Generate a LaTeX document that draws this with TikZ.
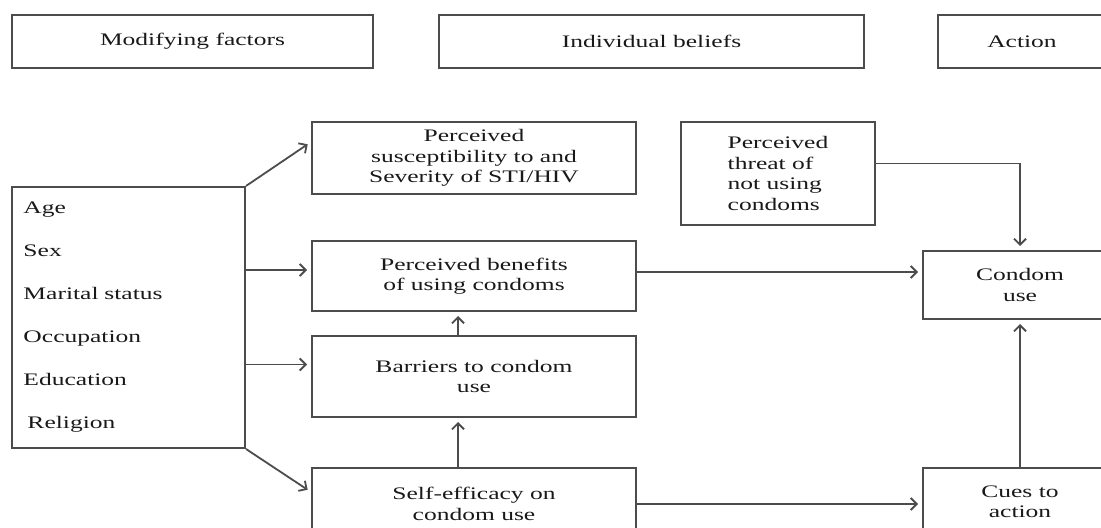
\documentclass[tikz,border=0pt]{standalone}
\usepackage{fontspec}
\setmainfont{Liberation Serif}[FakeStretch=1.45]
\usetikzlibrary{arrows.meta}

\begin{document}
\begin{tikzpicture}[x=0.5pt, y=-0.5pt,
  box/.style={draw=black!70, line width=1pt, rectangle, inner sep=0pt, align=center,
    text=black!90, font=\fontsize{8.8}{10.2}\selectfont},
  arr/.style={draw=black!70, line width=0.9pt, -{Straight Barb[length=3pt,width=6pt]}, shorten >=2pt}]
\useasboundingbox (0,0) rectangle (1101,528);
\clip (0,0) rectangle (1101,528);
\node[box, minimum width=180.5pt, minimum height=26.5pt] (modf) at (192.5,41.5) {Modifying factors};
\node[box, minimum width=212.5pt, minimum height=26.5pt] (indiv) at (651.5,41.5) {Individual beliefs};
\node[box, minimum width=84pt, minimum height=26.5pt] (action) at (1022,41.5) {Action};
\node[box, minimum width=116.5pt, minimum height=130.5pt, text width=105pt, align=left,
  font=\fontsize{8.8}{21.5}\selectfont] (factors) at (128.5,317.5)
  {Age\\Sex\\Marital status\\Occupation\\Education\\\hspace*{2pt}Religion};
\node[box, minimum width=162pt, minimum height=36pt] (suscept) at (474,158)
  {Perceived\\susceptibility to and\\Severity of STI/HIV};
\node[box, minimum width=97pt, minimum height=51.5pt, align=left] (threat) at (778,173.5)
  {Perceived\\threat of\\not using\\condoms};
\node[box, minimum width=162pt, minimum height=35pt] (benefits) at (474,276)
  {Perceived benefits\\of using condoms};
\node[box, minimum width=97pt, minimum height=34pt] (condom) at (1020,285) {Condom\\use};
\node[box, minimum width=162pt, minimum height=40.5pt] (barriers) at (474,376.5)
  {Barriers to condom\\use};
\node[box, minimum width=162pt, minimum height=36pt] (selfeff) at (474,504)
  {Self-efficacy on\\condom use};
\node[box, minimum width=97pt, minimum height=34pt] (cues) at (1020,502) {Cues to\\action};
\draw[arr] (factors.north east) -- ([yshift=8pt]suscept.west);
\draw[arr] ([yshift=3pt]factors.east |- benefits.west) -- ([yshift=3pt]benefits.west);
\draw[arr] ([yshift=6pt]factors.east |- barriers.west) -- ([yshift=6pt]barriers.west);
\draw[arr] (factors.south east) -- ([yshift=6pt]selfeff.west);
\draw[arr] ([yshift=2pt]benefits.east) -- ([yshift=2pt]benefits.east -| condom.west);
\draw[arr] ([yshift=5pt]threat.east) -| (condom.north);
\draw[arr] ([xshift=-8pt]barriers.north) -- ([xshift=-8pt]benefits.south);
\draw[arr] ([xshift=-8pt]selfeff.north) -- ([xshift=-8pt]barriers.south);
\draw[arr] (selfeff.east) -- (selfeff.east -| cues.west);
\draw[arr] (cues.north) -- (condom.south);
\end{tikzpicture}
\end{document}
